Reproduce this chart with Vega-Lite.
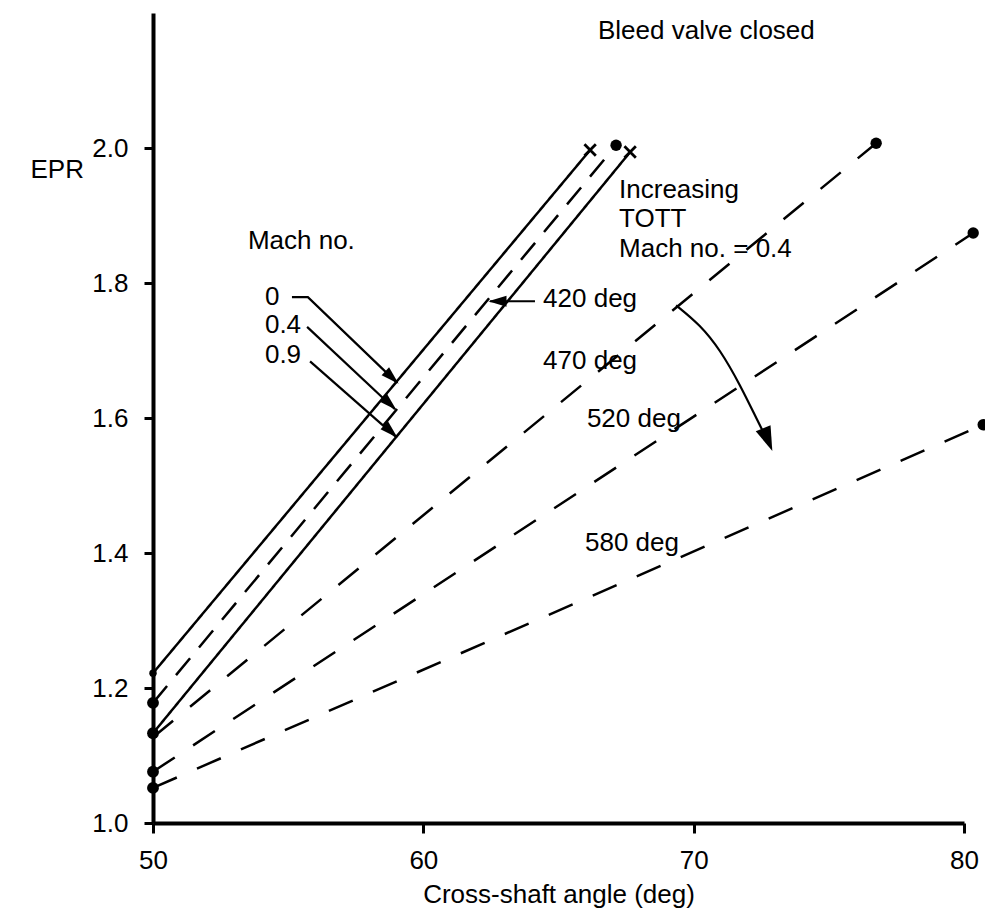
{
  "$schema": "https://vega.github.io/schema/vega-lite/v6.json",
  "width": 811,
  "height": 810,
  "autosize": {"type": "none"},
  "padding": {"left": 153, "top": 13, "right": 21, "bottom": 90},
  "background": "white",
  "config": {
    "view": {"stroke": null},
    "font": "Liberation Sans",
    "axis": {
      "domainColor": "black", "domainWidth": 4, "tickColor": "black", "tickWidth": 3,
      "labelColor": "black", "titleColor": "black", "labelFont": "Liberation Sans", "titleFont": "Liberation Sans",
      "labelFontSize": 26, "titleFontSize": 26, "titleFontWeight": "normal", "grid": false,
      "labelFlush": false, "labelOverlap": false
    }
  },
  "datasets": {
    "lines": [
      {"series": "Mach 0", "x": 50, "y": 1.222}, {"series": "Mach 0", "x": 66.17, "y": 1.997},
      {"series": "Mach 0.4 (420 deg)", "x": 50, "y": 1.178}, {"series": "Mach 0.4 (420 deg)", "x": 67.13, "y": 2.004},
      {"series": "Mach 0.9", "x": 50, "y": 1.133}, {"series": "Mach 0.9", "x": 67.65, "y": 1.994},
      {"series": "470 deg", "x": 50, "y": 1.127}, {"series": "470 deg", "x": 76.75, "y": 2.007},
      {"series": "520 deg", "x": 50, "y": 1.076}, {"series": "520 deg", "x": 80.34, "y": 1.874},
      {"series": "580 deg", "x": 50, "y": 1.052}, {"series": "580 deg", "x": 80.71, "y": 1.59}
    ],
    "points": [
      {"kind": "end-x", "x": 66.17, "y": 1.997}, {"kind": "end-x", "x": 67.65, "y": 1.994},
      {"kind": "end-o", "x": 67.13, "y": 2.004}, {"kind": "end-o", "x": 76.75, "y": 2.007},
      {"kind": "end-o", "x": 80.34, "y": 1.874}, {"kind": "end-o", "x": 80.71, "y": 1.59},
      {"kind": "start", "x": 50, "y": 1.178}, {"kind": "start", "x": 50, "y": 1.133},
      {"kind": "start", "x": 50, "y": 1.076}, {"kind": "start", "x": 50, "y": 1.052},
      {"kind": "start-small", "x": 50, "y": 1.222}
    ],
    "leaders": [
      {"id": "0", "o": 1, "x": 55.14, "y": 1.779}, {"id": "0", "o": 2, "x": 55.73, "y": 1.779}, {"id": "0", "o": 3, "x": 59.03, "y": 1.652},
      {"id": "0.4", "o": 1, "x": 55.7, "y": 1.735}, {"id": "0.4", "o": 2, "x": 58.95, "y": 1.613},
      {"id": "0.9", "o": 1, "x": 55.81, "y": 1.684}, {"id": "0.9", "o": 2, "x": 58.99, "y": 1.572},
      {"id": "420", "o": 1, "x": 64.13, "y": 1.773}, {"id": "420", "o": 2, "x": 62.47, "y": 1.773}
    ],
    "curve": [
      {"o": 1, "x": 69.35, "y": 1.767}, {"o": 2, "x": 70.24, "y": 1.738}, {"o": 3, "x": 70.98, "y": 1.701},
      {"o": 4, "x": 71.72, "y": 1.649}, {"o": 5, "x": 72.35, "y": 1.597}, {"o": 6, "x": 72.75, "y": 1.565}
    ],
    "heads": [
      {"id": "0", "x": 58.84, "y": 1.66}, {"id": "0.4", "x": 58.76, "y": 1.621}, {"id": "0.9", "x": 58.8, "y": 1.58},
      {"id": "420", "x": 62.74, "y": 1.773}, {"id": "curve", "x": 72.74, "y": 1.568}
    ],
    "notes": [
      {"label": "Bleed valve closed", "x": 66.46, "y": 2.1615},
      {"label": "Mach no.", "x": 53.51, "y": 1.85},
      {"label": "0", "x": 54.14, "y": 1.767},
      {"label": "0.4", "x": 54.14, "y": 1.726},
      {"label": "0.9", "x": 54.14, "y": 1.681},
      {"label": "420 deg", "x": 64.43, "y": 1.764},
      {"label": "470 deg", "x": 64.43, "y": 1.673},
      {"label": "520 deg", "x": 66.05, "y": 1.587},
      {"label": "580 deg", "x": 65.98, "y": 1.403},
      {"label": "Increasing", "x": 67.24, "y": 1.926},
      {"label": "TOTT", "x": 67.24, "y": 1.883},
      {"label": "Mach no. = 0.4", "x": 67.24, "y": 1.8385}
    ]
  },
  "encoding": {
    "x": {
      "field": "x", "type": "quantitative",
      "scale": {"domain": [50, 80], "nice": false, "zero": false},
      "axis": {"values": [50, 60, 70, 80], "format": "d", "tickSize": 10, "labelPadding": 14, "title": "Cross-shaft angle (deg)", "titlePadding": 8, "domainWidth": 4}
    },
    "y": {
      "field": "y", "type": "quantitative",
      "scale": {"domain": [1, 2.2], "nice": false, "zero": false},
      "axis": {"values": [1, 1.2, 1.4, 1.6, 1.8, 2.0], "format": ".1f", "tickSize": 9, "labelPadding": 16, "domainWidth": 4,
        "title": "EPR", "titleAngle": 0, "titleAlign": "left", "titleBaseline": "alphabetic", "titleX": -123, "titleY": 164}
    }
  },
  "layer": [
    {
      "data": {"name": "lines"},
      "mark": {"type": "line", "color": "black", "strokeWidth": 2.5},
      "encoding": {
        "detail": {"field": "series"},
        "strokeDash": {"field": "series", "type": "nominal", "legend": null,
          "scale": {"domain": ["Mach 0", "Mach 0.4 (420 deg)", "Mach 0.9", "470 deg", "520 deg", "580 deg"],
                    "range": [[1, 0], [22, 14], [1, 0], [26, 22], [26, 22], [26, 22]]}}
      }
    },
    {
      "data": {"name": "leaders"},
      "mark": {"type": "line", "color": "black", "strokeWidth": 2.2},
      "encoding": {"detail": {"field": "id"}, "order": {"field": "o"}}
    },
    {
      "data": {"name": "curve"},
      "mark": {"type": "line", "color": "black", "strokeWidth": 2.2, "interpolate": "basis"},
      "encoding": {"order": {"field": "o"}}
    },
    {
      "data": {"name": "heads"},
      "transform": [{"filter": "datum.id == '0' || datum.id == '0.4' || datum.id == '0.9'"}],
      "mark": {"type": "point", "shape": "M1,0L-1,-0.6L-1,0.6Z", "filled": true, "color": "black", "opacity": 1, "size": 330, "angle": 43}
    },
    {
      "data": {"name": "heads"},
      "transform": [{"filter": "datum.id == '420'"}],
      "mark": {"type": "point", "shape": "M1,0L-1,-0.6L-1,0.6Z", "filled": true, "color": "black", "opacity": 1, "size": 330, "angle": 180}
    },
    {
      "data": {"name": "heads"},
      "transform": [{"filter": "datum.id == 'curve'"}],
      "mark": {"type": "point", "shape": "M1,0L-1,-0.65L-1,0.65Z", "filled": true, "color": "black", "opacity": 1, "size": 600, "angle": 68}
    },
    {
      "data": {"name": "points"},
      "transform": [{"filter": "datum.kind == 'end-x'"}],
      "mark": {"type": "point", "shape": "M-1,-1L1,1M-1,1L1,-1", "filled": false, "color": "black", "opacity": 1, "strokeWidth": 2.8, "size": 130}
    },
    {
      "data": {"name": "points"},
      "transform": [{"filter": "datum.kind == 'end-o'"}],
      "mark": {"type": "point", "shape": "circle", "filled": true, "color": "black", "opacity": 1, "size": 130}
    },
    {
      "data": {"name": "points"},
      "transform": [{"filter": "datum.kind == 'start'"}],
      "mark": {"type": "point", "shape": "circle", "filled": true, "color": "black", "opacity": 1, "size": 140}
    },
    {
      "data": {"name": "points"},
      "transform": [{"filter": "datum.kind == 'start-small'"}],
      "mark": {"type": "point", "shape": "circle", "filled": true, "color": "black", "opacity": 1, "size": 55}
    },
    {
      "data": {"name": "notes"},
      "mark": {"type": "text", "align": "left", "baseline": "alphabetic", "font": "Liberation Sans", "fontSize": 26, "color": "black"},
      "encoding": {"text": {"field": "label"}}
    }
  ]
}
